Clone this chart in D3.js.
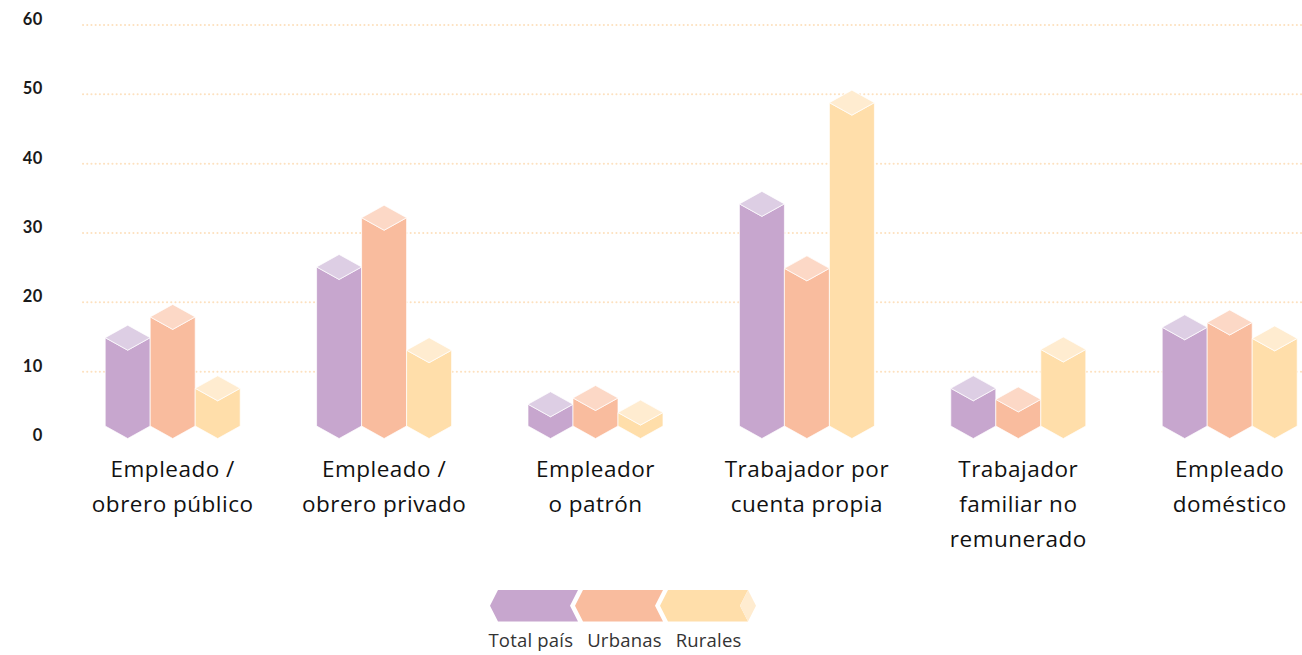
<!DOCTYPE html>
<html>
<head>
<meta charset="utf-8">
<script src="https://cdn.jsdelivr.net/npm/d3@7"></script>
<style>
  body { margin: 0; background: #fff; }
  svg { display: block; font-family: "Open Sans", Lato, sans-serif; }
</style>
</head>
<body>
<div id="chart"></div>
<script>
const categories = [
    "Empleado /\nobrero público",
    "Empleado /\nobrero privado",
    "Empleador\no patrón",
    "Trabajador por\ncuenta propia",
    "Trabajador\nfamiliar no\nremunerado",
    "Empleado\ndoméstico"
];
const series = ["Total país", "Urbanas", "Rurales"];
const totalPais = [14.9, 25.1, 5.3, 34.2, 7.6, 16.4];
const urbanas = [17.9, 32.2, 6.2, 24.9, 6.0, 17.1];
const rurales = [7.6, 13.1, 4.1, 48.8, 13.2, 14.8];
const yTicks = [0, 10, 20, 30, 40, 50, 60];

const bodyColors = ["#c7a6ce", "#f9bc9e", "#ffdeaa"];
const topColors = ["#ddcee4", "#fcd8c6", "#ffecd0"];

const width = 1302;
const height = 655;
const h = 12.5; // half height of the top diamond

const svg = d3.select("#chart")
    .append("svg")
    .attr("width", width)
    .attr("height", height);

const y = d3.scaleLinear().domain([0, 60]).range([441, 25]);
const x0 = d3.scaleBand().domain(categories).range([67, 1335.4]).padding(0);
const groupW = 135;
const x1 = d3.scaleBand().domain(series)
    .range([(x0.step() - groupW) / 2, (x0.step() + groupW) / 2]);
const color = d3.scaleOrdinal().domain(series).range(bodyColors);
const colorTop = d3.scaleOrdinal().domain(series).range(topColors);

// grid
svg.append("g")
    .selectAll("line")
    .data(yTicks.filter(d => d > 0))
    .enter().append("line")
    .attr("x1", 83)
    .attr("x2", width)
    .attr("y1", d => y(d))
    .attr("y2", d => y(d))
    .attr("stroke", "#fde1bf")
    .attr("stroke-width", 2)
    .attr("stroke-linecap", "round")
    .attr("stroke-dasharray", "0.1,4.1");

svg.append("g")
    .selectAll("text")
    .data(yTicks)
    .enter().append("text")
    .attr("x", 43)
    .attr("y", d => y(d))
    .attr("text-anchor", "end")
    .attr("font-family", "Lato, sans-serif")
    .attr("font-size", 16.5)
    .attr("font-weight", 700)
    .attr("letter-spacing", 0.6)
    .attr("fill", "#1a1a1a")
    .text(d => d);

// bars
const rows = categories.map((c, i) => ({
    cat: c,
    values: [totalPais[i], urbanas[i], rurales[i]].map((v, j) => ({ key: series[j], value: v }))
}));

const bars = svg.append("g")
    .selectAll("g")
    .data(rows)
    .enter().append("g")
    .attr("transform", d => `translate(${x0(d.cat)},0)`)
    .selectAll("g")
    .data(d => d.values)
    .enter().append("g");

function bodyPath(d) {
    const a = x1(d.key), b = a + x1.bandwidth(), c = (a + b) / 2;
    const top = y(d.value), base = y(0) - 2.5;
    return `M${a},${top}L${c},${top + h}L${b},${top}L${b},${base - h}L${c},${base}L${a},${base - h}Z`;
}
function topPath(d) {
    const a = x1(d.key), b = a + x1.bandwidth(), c = (a + b) / 2;
    const top = y(d.value);
    return `M${a},${top}L${c},${top - h}L${b},${top}L${c},${top + h}Z`;
}

bars.append("path")
    .attr("d", bodyPath)
    .attr("fill", d => color(d.key))
    .attr("stroke", "#fff")
    .attr("stroke-width", 1)
    .attr("stroke-opacity", 0.7);

bars.append("path")
    .attr("d", topPath)
    .attr("fill", d => colorTop(d.key))
    .attr("stroke", "#fff")
    .attr("stroke-width", 1)
    .attr("stroke-opacity", 0.7);

// category labels
svg.append("g")
    .selectAll("text")
    .data(categories)
    .enter().append("text")
    .attr("x", d => x0(d) + x0.bandwidth() / 2)
    .attr("y", 477)
    .attr("text-anchor", "middle")
    .attr("font-size", 22.5)
    .attr("letter-spacing", 0.5)
    .attr("fill", "#111")
    .each(function(d) {
        const t = d3.select(this);
        d.split("\n").forEach((line, i) => {
            t.append("tspan")
                .attr("x", x0(d) + x0.bandwidth() / 2)
                .attr("dy", i === 0 ? 0 : 35)
                .text(line);
        });
    });

// legend: a horizontal 3d bar split in three
const lx = d3.scaleBand().domain(series).range([498, 748]).paddingInner(5 / 85);
const lTop = 590, lBot = 621.5, lMid = (lTop + lBot) / 2, dd = 8;
const legend = svg.append("g");

legend.selectAll("path.seg")
    .data(series)
    .enter().append("path")
    .attr("class", "seg")
    .attr("d", d => {
        const a = lx(d), b = a + lx.bandwidth();
        return `M${a - dd},${lMid}L${a},${lTop}L${b},${lTop}L${b - dd},${lMid}L${b},${lBot}L${a},${lBot}Z`;
    })
    .attr("fill", d => color(d));

const last = series[series.length - 1];
const capX = lx(last) + lx.bandwidth();
legend.append("path")
    .attr("d", `M${capX - dd},${lMid}L${capX},${lTop}L${capX + dd},${lMid}L${capX},${lBot}Z`)
    .attr("fill", colorTop(last));

const legendText = legend.append("g");
const labels = legendText.selectAll("text")
    .data(series)
    .enter().append("text")
    .attr("y", 646.5)
    .attr("font-size", 18.5)
    .attr("letter-spacing", 0.2)
    .attr("fill", "#333")
    .text(d => d);

let cursor = 0;
const gap = 14;
labels.each(function() {
    d3.select(this).attr("x", cursor);
    cursor += this.getComputedTextLength() + gap;
});
const total = cursor - gap;
legendText.attr("transform", `translate(${615 - total / 2},0)`);
</script>
</body>
</html>
